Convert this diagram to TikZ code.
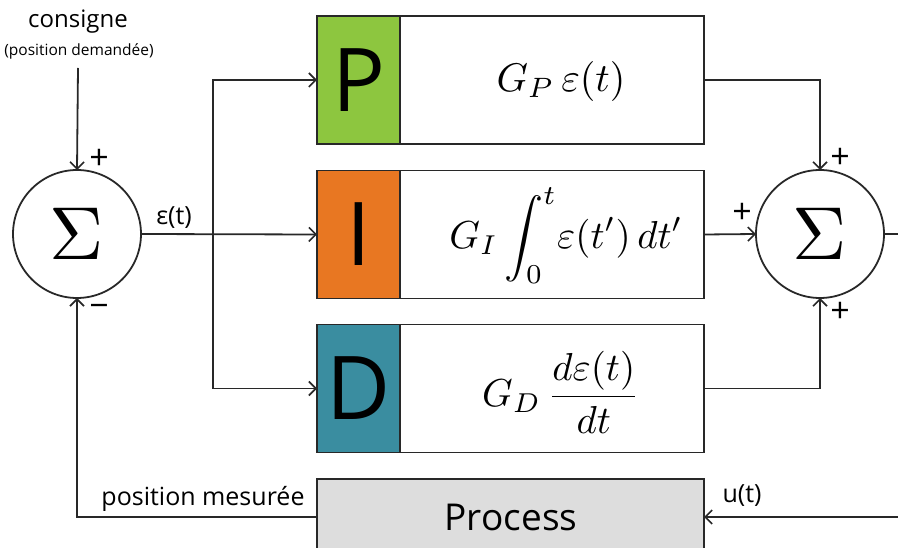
\documentclass[tikz,border=0pt]{standalone}
\usepackage{fontspec}
\setmainfont{Open Sans}
\usetikzlibrary{arrows.meta}
\definecolor{pgreen}{RGB}{141,198,63}
\definecolor{porange}{RGB}{232,119,34}
\definecolor{pteal}{RGB}{58,141,160}
\definecolor{pgray}{RGB}{221,221,221}
\definecolor{lc}{RGB}{40,40,40}
\begin{document}
\begin{tikzpicture}[x=1pt,y=-1pt,
  every node/.style={inner sep=0pt, outer sep=0pt},
  arr/.style={draw=lc, line width=1.8pt, -{Straight Barb[length=7pt,width=14pt,line width=1.6pt]}},
  ln/.style={draw=lc, line width=1.8pt},
  letterbox/.style={draw=lc, line width=1.8pt, minimum width=83pt, minimum height=128pt, font=\fontsize{88}{90}\selectfont},
  formbox/.style={draw=lc, line width=1.8pt, fill=white, minimum width=304pt, minimum height=128pt},
  sumnode/.style={circle, draw=lc, line width=1.8pt, fill=white, minimum size=128pt},
  sign/.style={font=\fontsize{34}{36}\selectfont},
  lbl/.style={font=\fontsize{25}{28}\selectfont}
]
\useasboundingbox (0,0) rectangle (898,548);

% blocks
\node[letterbox, fill=pgreen] (Pl) at (358.5,80) {P};
\node[formbox] (Pr) at (552,80) {};
\node (PrT) at (561,82) {\scalebox{4}{$G_P\,\varepsilon(t)$}};
\node[letterbox, fill=porange] (Il) at (358.5,234.5) {I};
\node[formbox] (Ir) at (552,234.5) {};
\node (IrT) at (566,236) {\scalebox{3.9}{$G_I\displaystyle\int_0^t\!\varepsilon(t')\,dt'$}};
\node[letterbox, fill=pteal] (Dl) at (358.5,388.5) {D};
\node[formbox] (Dr) at (552,388.5) {};
\node (DrT) at (561,392) {\scalebox{3.9}{$G_D\,\displaystyle\frac{d\varepsilon(t)}{dt}$}};
\node[draw=lc, line width=1.8pt, fill=pgray, minimum width=387pt, minimum height=80pt] (Proc) at (510.5,519) {};
\node[font=\fontsize{37}{42}\selectfont] (ProcT) at (511,517) {Process};

% summing junctions
\node[sumnode] (S1) at (77,234) {};
\node (S1T) at (77,234) {\scalebox{7.5}{$\Sigma$}};
\node[sumnode] (S2) at (820,234) {};
\node (S2T) at (820,234) {\scalebox{7.5}{$\Sigma$}};

% text labels
\node[font=\fontsize{24}{26}\selectfont] (cons) at (78,22) {consigne};
\node[font=\fontsize{15.5}{17}\selectfont] (dem) at (79,51) {(position demandée)};
\coordinate (cin) at (78,68);
\node[lbl] (eps) at (174,218) {ε(t)};
\node[lbl] (posm) at (203,499) {position mesurée};
\node[lbl] (ut) at (742,496) {u(t)};

\node[sign] (s1p) at (99,159) {+};
\node[sign] (s1m) at (99,311) {−};
\node[sign] (s2t) at (840,158) {+};
\node[sign] (s2l) at (742,213) {+};
\node[sign] (s2b) at (840,312) {+};

% connectors
\coordinate (br) at (213,234);
\coordinate (out) at (898,234);
\coordinate (uin) at (898,517);

\draw[arr] (cin) -- (S1.north);
\draw[arr] (S1.east) -- (Il.west);
\draw[arr] (br) |- (Pl.west);
\draw[arr] (br) |- (Dl.west);
\draw[arr] (Pr.east) -| (S2.north);
\draw[arr] (Ir.east) -- (S2.west);
\draw[arr] (Dr.east) -| (S2.south);
\draw[ln] (S2.east) -- (out);
\draw[arr] (uin) -- (uin -| Proc.east);
\draw[arr] (Proc.west |- uin) -| (S1.south);
\end{tikzpicture}
\end{document}
